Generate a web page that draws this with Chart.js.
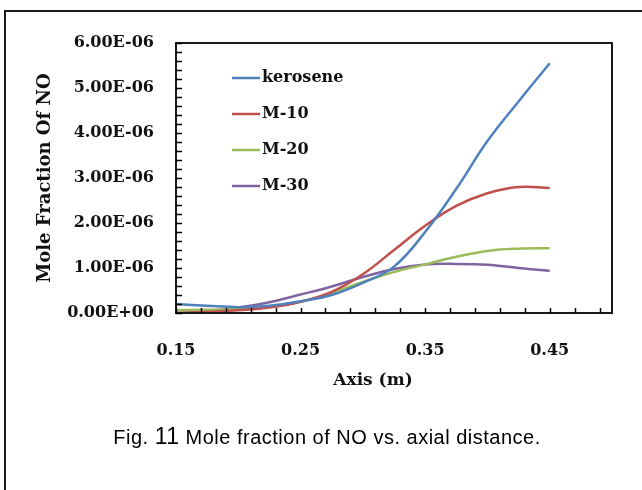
<!DOCTYPE html>
<html>
<head>
<meta charset="utf-8">
<script src="https://cdn.jsdelivr.net/npm/chart.js@4.4.1/dist/chart.umd.min.js"></script>
<style>
  html, body { margin: 0; padding: 0; background: #fff; }
  #wrap { position: relative; width: 642px; height: 490px; }
</style>
</head>
<body>
<div id="wrap"><canvas id="noChart" width="642" height="490"></canvas></div>
<script>
// axial position (m)
const xValues = [0.15, 0.175, 0.2, 0.225, 0.25, 0.275, 0.3, 0.325, 0.35, 0.375, 0.4, 0.425, 0.45];
// mole fraction of NO, in units of 1e-6
const kerosene = [0.20, 0.16, 0.13, 0.16, 0.26, 0.40, 0.67, 1.03, 1.80, 2.76, 3.82, 4.70, 5.55];
const m10 = [0.00, 0.02, 0.06, 0.12, 0.25, 0.47, 0.86, 1.40, 1.94, 2.38, 2.66, 2.80, 2.78];
const m20 = [0.06, 0.07, 0.09, 0.14, 0.25, 0.45, 0.69, 0.91, 1.08, 1.25, 1.38, 1.43, 1.44];
const m30 = [0.00, 0.04, 0.12, 0.24, 0.41, 0.59, 0.80, 0.98, 1.08, 1.09, 1.07, 1.00, 0.94];

const seriesNames = ['kerosene', 'M-10', 'M-20', 'M-30'];
const seriesColors = ['#4f81bd', '#c0504d', '#9bbb59', '#8064a2'];

const xTicks = [0.15, 0.25, 0.35, 0.45];
const xTickLabels = ['0.15', '0.25', '0.35', '0.45'];
const yTicks = [0, 1, 2, 3, 4, 5, 6];
const yTickLabels = ['0.00E+00', '1.00E-06', '2.00E-06', '3.00E-06', '4.00E-06', '5.00E-06', '6.00E-06'];

const serif = "'DejaVu Serif', serif";

function pts(ys) {
  return xValues.map((x, i) => ({ x: x, y: ys[i] }));
}

// frame, inside tick marks, titles, legend and caption
const decor = {
  id: 'decor',
  afterDatasetsDraw(chart) {
    const c = chart.ctx;
    const a = chart.chartArea;
    const xs = chart.scales.x, ys = chart.scales.y;
    c.save();

    c.strokeStyle = '#1a1a1a';
    c.lineWidth = 2;
    c.beginPath();
    c.moveTo(5, 490); c.lineTo(5, 11); c.lineTo(642, 11);
    c.stroke();

    c.strokeRect(a.left, a.top, a.right - a.left, a.bottom - a.top);

    c.strokeStyle = '#000';
    c.lineWidth = 1.5;
    c.beginPath();
    for (let v = 0.15; v < 0.5; v += 0.02) {
      const px = Math.round(xs.getPixelForValue(v)) + 0.5;
      c.moveTo(px, a.bottom); c.lineTo(px, a.bottom - 5);
    }
    for (let v = 0; v <= 6.001; v += 0.2) {
      const py = Math.round(ys.getPixelForValue(v)) + 0.5;
      c.moveTo(a.left, py); c.lineTo(a.left + 6, py);
    }
    c.stroke();

    c.fillStyle = '#111';
    c.textBaseline = 'middle';
    c.textAlign = 'center';
    c.font = 'bold 17px ' + serif;
    c.fillText('Axis (m)', 373, 381);

    c.save();
    c.translate(45, 178);
    c.rotate(-Math.PI / 2);
    c.font = 'bold 18px ' + serif;
    c.fillText('Mole Fraction Of NO', 0, 0);
    c.restore();

    c.font = 'bold 16px ' + serif;
    c.textAlign = 'left';
    c.lineWidth = 2.5;
    seriesNames.forEach((name, i) => {
      const y = 78 + i * 36;
      c.strokeStyle = seriesColors[i];
      c.beginPath(); c.moveTo(232, y); c.lineTo(260, y); c.stroke();
      c.fillText(name, 262, y);
    });

    // caption
    const p1 = 'Fig. ', p2 = '11', p3 = ' Mole fraction of NO vs. axial distance.';
    const f1 = "20px 'Liberation Sans', Arial, sans-serif";
    const f2 = "23px 'Liberation Sans', Arial, sans-serif";
    c.fillStyle = '#000';
    c.textBaseline = 'alphabetic';
    c.letterSpacing = '0.5px';
    c.font = f1; const w1 = c.measureText(p1).width, w3 = c.measureText(p3).width;
    c.font = f2; const w2 = c.measureText(p2).width;
    let x0 = 327 - (w1 + w2 + w3) / 2;
    c.font = f1; c.fillText(p1, x0, 444);
    c.font = f2; c.fillText(p2, x0 + w1, 444);
    c.font = f1; c.fillText(p3, x0 + w1 + w2, 444);

    c.restore();
  }
};

new Chart(document.getElementById('noChart'), {
  type: 'line',
  data: {
    datasets: [kerosene, m10, m20, m30].map((d, i) => ({
      label: seriesNames[i],
      data: pts(d),
      borderColor: seriesColors[i],
      backgroundColor: seriesColors[i],
      borderWidth: 2.5,
      pointRadius: 0,
      tension: 0.4,
      fill: false
    }))
  },
  options: {
    responsive: false,
    animation: false,
    layout: { padding: { top: 43, right: 30, left: 0, bottom: 0 } },
    plugins: { legend: { display: false }, tooltip: { enabled: false } },
    scales: {
      x: {
        type: 'linear', min: 0.15, max: 0.5,
        grid: { display: false, drawTicks: false },
        border: { display: false },
        afterBuildTicks: s => { s.ticks = xTicks.map(v => ({ value: v })); },
        afterFit: s => { s.height = 177; },
        ticks: {
          padding: 28, color: '#111',
          font: { family: serif, size: 16, weight: 'bold' },
          callback: (v, i) => xTickLabels[i]
        }
      },
      y: {
        min: 0, max: 6,
        grid: { display: false, drawTicks: false },
        border: { display: false },
        afterBuildTicks: s => { s.ticks = yTicks.map(v => ({ value: v })); },
        afterFit: s => { s.width = 176; },
        ticks: {
          padding: 22, color: '#111',
          font: { family: serif, size: 16, weight: 'bold' },
          callback: (v, i) => yTickLabels[i]
        }
      }
    }
  },
  plugins: [decor]
});
</script>
</body>
</html>
